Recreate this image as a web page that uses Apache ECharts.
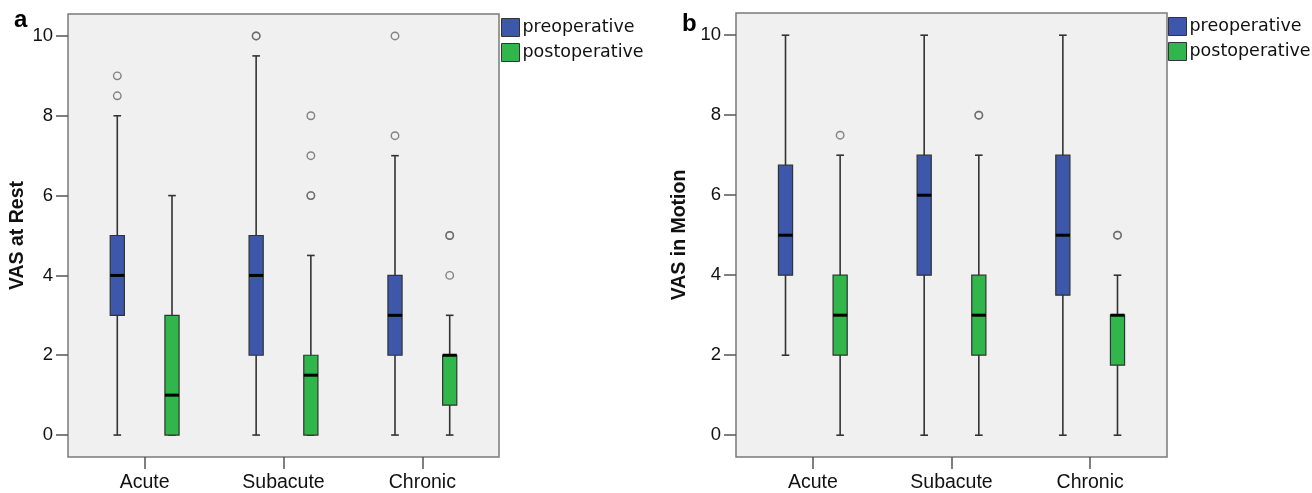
<!DOCTYPE html>
<html>
<head>
<meta charset="utf-8">
<title>VAS at rest / in motion</title>
<script src="https://cdn.jsdelivr.net/npm/echarts@6/dist/echarts.min.js"></script>
<style>
  html, body { margin: 0; padding: 0; background: #fff; }
  #chart { width: 1312px; height: 493px; }
</style>
</head>
<body>
<div id="chart"></div>
<script>
var categories = ['Acute', 'Subacute', 'Chronic']
var groups = ['preoperative', 'postoperative']
var yTicks = [0, 2, 4, 6, 8, 10]

// [min, Q1, median, Q3, max] per category
var restPre = [[0, 3, 4, 5, 8], [0, 2, 4, 5, 9.5], [0, 2, 3, 4, 7]]
var restPost = [[0, 0, 1, 3, 6], [0, 0, 1.5, 2, 4.5], [0, 0.75, 2, 2, 3]]
var motionPre = [[2, 4, 5, 6.75, 10], [0, 4, 6, 7, 10], [0, 3.5, 5, 7, 10]]
var motionPost = [[0, 2, 3, 4, 7], [0, 2, 3, 4, 7], [0, 1.75, 3, 3, 4]]

// outliers: [category index, value] (repeated values overlap)
var restPreOut = [[0, 8.5], [0, 9], [1, 10], [1, 10], [2, 7.5], [2, 10]]
var restPostOut = [[1, 6], [1, 6], [1, 7], [1, 8], [2, 4], [2, 5], [2, 5]]
var motionPreOut = []
var motionPostOut = [[0, 7.5], [1, 8], [1, 8], [2, 5], [2, 5]]

var colors = ['#3d57ab', '#30b64a']
var SHIFT = 0.197 // half distance between the two boxes, in category units
var BOX_W = 0.102
var CAP_W = 0.055
var FONT = '"Liberation Sans", Arial, sans-serif'

function boxItems (stats, side) {
  return stats.map(function (s, i) {
    return [i + side * SHIFT].concat(s)
  })
}

function outItems (list, side) {
  return list.map(function (p) {
    return [p[0] + side * SHIFT, p[1]]
  })
}

function renderBox (params, api) {
  var x = api.value(0)
  var lo = api.coord([x, api.value(1)])
  var q1 = api.coord([x, api.value(2)])
  var md = api.coord([x, api.value(3)])
  var q3 = api.coord([x, api.value(4)])
  var hi = api.coord([x, api.value(5)])
  var bw = api.size([BOX_W, 0])[0]
  var cw = api.size([CAP_W, 0])[0]
  var cx = lo[0]
  var line = { stroke: '#333', lineWidth: 1.6 }
  return {
    type: 'group',
    children: [
      { type: 'line', shape: { x1: cx, y1: lo[1], x2: cx, y2: hi[1] }, style: line },
      { type: 'line', shape: { x1: cx - cw / 2, y1: lo[1], x2: cx + cw / 2, y2: lo[1] }, style: line },
      { type: 'line', shape: { x1: cx - cw / 2, y1: hi[1], x2: cx + cw / 2, y2: hi[1] }, style: line },
      {
        type: 'rect',
        shape: { x: cx - bw / 2, y: q3[1], width: bw, height: q1[1] - q3[1] },
        style: { fill: api.visual('color'), stroke: '#333', lineWidth: 1.2 }
      },
      { type: 'line', shape: { x1: cx - bw / 2, y1: md[1], x2: cx + bw / 2, y2: md[1] }, style: { stroke: '#000', lineWidth: 3 } }
    ]
  }
}

function xAxisFor (gridIndex, min, max) {
  return {
    type: 'value',
    gridIndex: gridIndex,
    min: min,
    max: max,
    splitLine: { show: false },
    axisLine: { show: false, onZero: false },
    axisTick: { show: true, length: 12, customValues: [0, 1, 2], lineStyle: { color: '#555', width: 1.5 } },
    axisLabel: {
      customValues: [0, 1, 2],
      formatter: function (v) { return categories[Math.round(v)] },
      margin: 16,
      fontSize: 19.5,
      fontFamily: FONT,
      color: '#111'
    }
  }
}

function yAxisFor (gridIndex, name, min, max, gap) {
  return {
    type: 'value',
    gridIndex: gridIndex,
    min: min,
    max: max,
    name: name,
    nameLocation: 'middle',
    nameGap: gap,
    nameTextStyle: { fontWeight: 'bold', fontSize: 19.5, fontFamily: FONT, color: '#111' },
    splitLine: { show: false },
    axisLine: { show: false, onZero: false },
    axisTick: { show: true, length: 12, customValues: yTicks, lineStyle: { color: '#555', width: 1.5 } },
    axisLabel: { customValues: yTicks, margin: 15, fontSize: 18.5, fontFamily: FONT, color: '#111' }
  }
}

function boxSeries (idx, stats, side) {
  return {
    name: groups[side < 0 ? 0 : 1],
    type: 'custom',
    xAxisIndex: idx,
    yAxisIndex: idx,
    renderItem: renderBox,
    itemStyle: { color: colors[side < 0 ? 0 : 1] },
    encode: { x: 0, y: [1, 2, 3, 4, 5] },
    data: boxItems(stats, side)
  }
}

function outSeries (idx, list, side) {
  return {
    type: 'scatter',
    xAxisIndex: idx,
    yAxisIndex: idx,
    symbol: 'circle',
    symbolSize: 7.5,
    itemStyle: { color: 'rgba(240,240,240,0)', borderColor: '#666', borderWidth: 1.4 },
    data: outItems(list, side)
  }
}

function legendAt (left, top) {
  return {
    left: left,
    top: top,
    padding: 0,
    orient: 'vertical',
    icon: 'rect',
    itemWidth: 18,
    itemHeight: 18,
    itemGap: 6,
    selectedMode: false,
    data: groups,
    itemStyle: { borderColor: '#333', borderWidth: 1 },
    textStyle: { fontFamily: '"DejaVu Sans", sans-serif', fontSize: 17.5, color: '#111', padding: [0, 0, 0, -2] }
  }
}

var chart = echarts.init(document.getElementById('chart'))
chart.setOption({
  animation: false,
  backgroundColor: '#fff',
  grid: [
    { left: 68, top: 14, width: 431, height: 444, show: true, backgroundColor: '#f0f0f0', borderColor: '#7a7a7a', borderWidth: 1.5 },
    { left: 736, top: 13, width: 431, height: 444, show: true, backgroundColor: '#f0f0f0', borderColor: '#7a7a7a', borderWidth: 1.5 }
  ],
  xAxis: [xAxisFor(0, -0.552, 2.552), xAxisFor(1, -0.554, 2.554)],
  yAxis: [yAxisFor(0, 'VAS at Rest', -0.55, 10.55, 40), yAxisFor(1, 'VAS in Motion', -0.545, 10.555, 46)],
  legend: [legendAt(501, 18), legendAt(1168, 17)],
  graphic: [
    { type: 'text', left: 14, top: 8, style: { text: 'a', font: 'bold 24px ' + FONT, fill: '#000' } },
    { type: 'text', left: 682, top: 12, style: { text: 'b', font: 'bold 24px ' + FONT, fill: '#000' } }
  ],
  series: [
    boxSeries(0, restPre, -1),
    boxSeries(0, restPost, 1),
    outSeries(0, restPreOut, -1),
    outSeries(0, restPostOut, 1),
    boxSeries(1, motionPre, -1),
    boxSeries(1, motionPost, 1),
    outSeries(1, motionPreOut, -1),
    outSeries(1, motionPostOut, 1)
  ]
})
</script>
</body>
</html>
